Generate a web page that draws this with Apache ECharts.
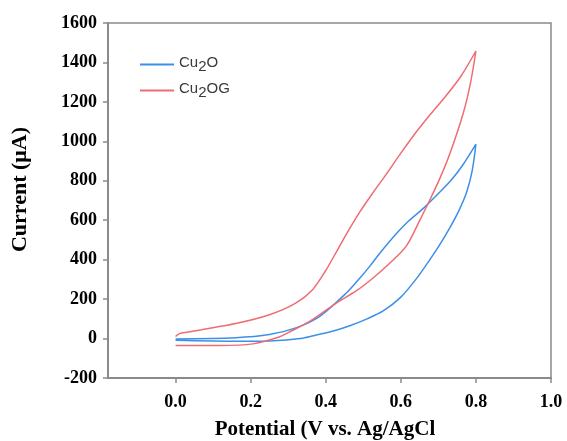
<!DOCTYPE html>
<html>
<head>
<meta charset="utf-8">
<script src="https://cdn.jsdelivr.net/npm/echarts@6/dist/echarts.min.js"></script>
<style>
  html, body { margin: 0; padding: 0; background: #fff; }
  #chart { width: 567px; height: 441px; }
</style>
</head>
<body>
<div id="chart"></div>
<script>
// potential (V) and current (uA), forward scan then back
const cu2oV = [0.00, 0.16, 0.25, 0.32, 0.384, 0.455, 0.491, 0.517, 0.544, 0.589, 0.62, 0.66, 0.70, 0.735, 0.765, 0.80,
  0.79, 0.775, 0.755, 0.73, 0.70, 0.67, 0.64, 0.60, 0.553, 0.51, 0.464, 0.42, 0.375, 0.339, 0.251, 0.162, 0.00];
const cu2oI = [-2, 4, 20, 54, 113, 231, 307, 366, 433, 534, 595, 660, 735, 805, 880, 986,
  850, 740, 650, 560, 465, 380, 300, 210, 140, 100, 65, 38, 18, 2, -12, -14, -9];

const cu2ogV = [0.00, 0.01, 0.03, 0.07, 0.16, 0.25, 0.32, 0.365, 0.40, 0.43, 0.455, 0.49, 0.526, 0.56, 0.60, 0.64, 0.68, 0.72, 0.76, 0.80,
  0.785, 0.766, 0.731, 0.704, 0.673, 0.651, 0.615, 0.571, 0.526, 0.48, 0.428, 0.357, 0.30, 0.277, 0.206, 0.117, 0.00];
const cu2ogI = [10, 25, 32, 45, 76, 121, 180, 248, 345, 445, 530, 640, 740, 830, 940, 1045, 1140, 1230, 1330, 1458,
  1290, 1141, 939, 812, 686, 602, 470, 383, 307, 240, 180, 87, 30, 9, -27, -35, -35];

const xTicks = [0, 0.2, 0.4, 0.6, 0.8, 1.0];
const seriesNames = ['Cu2O', 'Cu2OG'];

const pairs = (xs, ys) => xs.map((x, i) => [x, ys[i]]);

var myChart = echarts.init(document.getElementById('chart'));
var axisGray = '#8a8a8a';
var option = {
  animation: false,
  grid: {
    left: 108, right: 16, top: 23, bottom: 63,
    outerBoundsMode: 'none',
    show: true, borderColor: axisGray, borderWidth: 1.5
  },
  legend: {
    data: seriesNames,
    orient: 'vertical',
    left: 135, top: 50,
    itemWidth: 34, itemHeight: 2, itemGap: 7,
    icon: 'rect',
    formatter: function (name) {
      return '{a|Cu}{s|2}{a|' + name.slice(3) + '}';
    },
    textStyle: {
      rich: {
        a: { fontFamily: 'Liberation Sans', fontSize: 15, color: '#3a3a3a', verticalAlign: 'top' },
        s: { fontFamily: 'Liberation Sans', fontSize: 15, color: '#3a3a3a', verticalAlign: 'top', padding: [4, 0, 0, 0] }
      }
    }
  },
  xAxis: {
    type: 'value',
    min: -0.18, max: 1.0,
    name: 'Potential (V vs. Ag/AgCl',
    nameLocation: 'middle',
    nameGap: 41,
    nameTextStyle: { fontFamily: 'Liberation Serif', fontWeight: 'bold', fontSize: 21, color: '#000', padding: [0, 9, 0, 0] },
    splitLine: { show: false },
    axisLine: { onZero: false, lineStyle: { color: axisGray, width: 2 } },
    axisTick: { customValues: xTicks, length: 5, lineStyle: { color: axisGray, width: 1.5 } },
    axisLabel: {
      customValues: xTicks,
      margin: 15,
      formatter: function (v) { return v.toFixed(1); },
      fontFamily: 'Liberation Serif', fontWeight: 'bold', fontSize: 18, color: '#000'
    }
  },
  yAxis: {
    type: 'value',
    min: -200, max: 1600, interval: 200,
    name: 'Current (\u03bcA)',
    nameLocation: 'middle',
    nameGap: 77,
    nameTextStyle: { fontFamily: 'Liberation Serif', fontWeight: 'bold', fontSize: 22, color: '#000', padding: [0, 0, 0, 22] },
    splitLine: { show: false },
    axisLine: { show: true, onZero: false, lineStyle: { color: axisGray, width: 2 } },
    axisTick: { show: true, length: 5, lineStyle: { color: axisGray, width: 1.5 } },
    axisLabel: {
      margin: 11,
      formatter: function (v) { return String(v); },
      fontFamily: 'Liberation Serif', fontWeight: 'bold', fontSize: 18, color: '#000'
    }
  },
  series: [
    {
      name: seriesNames[0], type: 'line', data: pairs(cu2oV, cu2oI),
      smooth: 0.3, showSymbol: false, color: '#3d8fe8',
      lineStyle: { width: 1.5 }
    },
    {
      name: seriesNames[1], type: 'line', data: pairs(cu2ogV, cu2ogI),
      smooth: 0.3, showSymbol: false, color: '#ee6d74',
      lineStyle: { width: 1.5 }
    }
  ]
};
option && myChart.setOption(option);
</script>
</body>
</html>
